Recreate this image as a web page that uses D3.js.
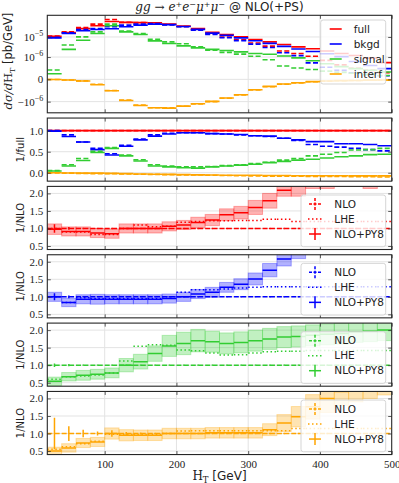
<!DOCTYPE html>
<html>
<head>
<meta charset="utf-8">
<script src="https://cdn.jsdelivr.net/npm/d3@7/dist/d3.min.js"></script>
<style>
  body { margin: 0; background: #fff; }
  text { font-family: "DejaVu Sans", sans-serif; fill: #222; }
  .tick text { font-family: "Liberation Serif", serif; font-size: 11px; }
</style>
</head>
<body>
<div id="chart"></div>
<script>
// ---- data -------------------------------------------------------------
var edges = [20, 40, 60, 80, 100, 120, 140, 160, 180, 200, 220, 240, 260,
  280, 300, 320, 340, 360, 380, 400, 420, 440, 460, 480, 500];

// main panel, dsigma/dHT [pb/GeV]; PS = NLO+PY8 (solid), NLO (dashed)
var fullPS = [1.08e-5, 1.65e-5, 2.6e-5, 3.6e-5, 5.9e-5, 5.3e-5, 5.2e-5, 5.1e-5, 4.4e-5, 3.5e-5, 2.6e-5, 1.7e-5,
  1.33e-5, 1.01e-5, 7.5e-6, 5.7e-6, 4.2e-6, 3.2e-6, 2.6e-6, 2.0e-6, 1.5e-6, 1.2e-6, 9.5e-7, 7.5e-7];
var fullNLO = [1.1e-5, 1.8e-5, 2.95e-5, 4.35e-5, 7.45e-5, 5.3e-5, 5.2e-5, 5.1e-5, 4.2e-5, 3.3e-5, 2.3e-5, 1.45e-5,
  1.0e-5, 7.3e-6, 5.0e-6, 3.5e-6, 2.0e-6, 1.5e-6, 1.1e-6, 8.5e-7, 6.5e-7, 5.0e-7, 4.0e-7, 3.0e-7];
var bkgdPS = [9.0e-6, 1.49e-5, 2.03e-5, 2.36e-5, 2.55e-5, 3.21e-5, 3.88e-5, 4.36e-5, 4.1e-5, 3.3e-5, 2.4e-5, 1.55e-5,
  1.2e-5, 9.0e-6, 6.5e-6, 4.8e-6, 3.4e-6, 2.5e-6, 1.9e-6, 1.45e-6, 1.05e-6, 8.0e-7, 6.2e-7, 4.8e-7];
var bkgdNLO = [9.5e-6, 1.62e-5, 2.36e-5, 2.64e-5, 3.2e-5, 3.88e-5, 4.36e-5, 4.7e-5, 4.0e-5, 3.2e-5, 2.2e-5, 1.35e-5,
  9.2e-6, 6.6e-6, 4.4e-6, 3.0e-6, 1.64e-6, 1.17e-6, 7.4e-7, 5.4e-7, 4.0e-7, 2.9e-7, 2.2e-7, 1.6e-7];
var sigPS = [2.5e-7, 2.4e-6, 6.9e-6, 1.49e-5, 3.6e-5, 1.8e-5, 1.33e-5, 6.4e-6, 4.7e-6, 3.6e-6, 2.86e-6, 2.4e-6,
  2.1e-6, 1.8e-6, 1.5e-6, 1.37e-6, 1.13e-6, 9.6e-7, 8.3e-7, 7.0e-7, 5.7e-7, 4.8e-7, 4.1e-7, 3.3e-7];
var sigNLO = [4.2e-7, 4.0e-6, 1.01e-5, 1.8e-5, 4.36e-5, 1.95e-5, 1.49e-5, 7.7e-6, 5.7e-6, 4.6e-6, 3.2e-6, 2.2e-6,
  1.7e-6, 1.39e-6, 1.1e-6, 8.8e-7, 6.0e-7, 5.1e-7, 4.4e-7, 3.7e-7, 3.1e-7, 2.7e-7, 2.2e-7, 1.7e-7];
var intPS = [-1e-8, -3e-8, -7.5e-8, -2.4e-7, -5.1e-7, -9.5e-7, -1.55e-6, -2.0e-6, -2.1e-6, -1.67e-6, -1.28e-6, -9.9e-7,
  -8.4e-7, -6.9e-7, -4.65e-7, -3.15e-7, -2.1e-7, -1.5e-7, -1.05e-7, -7.5e-8, -6e-8, -5e-8, -3.5e-8, -3e-8];
var intNLO = [-1e-8, -3e-8, -7e-8, -2.2e-7, -5.0e-7, -9.3e-7, -1.5e-6, -2.0e-6, -2.05e-6, -1.7e-6, -1.3e-6, -1.0e-6,
  -8.5e-7, -7.0e-7, -4.8e-7, -3.3e-7, -2.2e-7, -1.6e-7, -1.1e-7, -8e-8, -6.5e-8, -5e-8, -4e-8, -3.5e-8];

// second panel, component / full
var fracBkgdPS = [0.99, 0.86, 0.73, 0.55, 0.42, 0.63, 0.78, 0.87, 0.92, 0.95, 0.95, 0.93,
  0.92, 0.91, 0.88, 0.87, 0.82, 0.78, 0.74, 0.74, 0.69, 0.69, 0.67, 0.64];
var fracBkgdNLO = [1.0, 0.9, 0.73, 0.58, 0.45, 0.65, 0.8, 0.9, 0.94, 0.95, 0.95, 0.93,
  0.92, 0.9, 0.88, 0.86, 0.82, 0.77, 0.67, 0.63, 0.61, 0.58, 0.55, 0.52];
var fracSigPS = [0.04, 0.16, 0.29, 0.48, 0.58, 0.4, 0.28, 0.16, 0.14, 0.12, 0.11, 0.14,
  0.16, 0.18, 0.2, 0.24, 0.27, 0.3, 0.32, 0.35, 0.38, 0.4, 0.43, 0.44];
var fracSigNLO = [0.05, 0.19, 0.34, 0.51, 0.6, 0.42, 0.31, 0.19, 0.16, 0.14, 0.14, 0.15,
  0.17, 0.19, 0.22, 0.25, 0.3, 0.34, 0.4, 0.44, 0.48, 0.54, 0.55, 0.58];
var fracIntPS = [0, -0.005, -0.01, -0.01, -0.015, -0.02, -0.03, -0.035, -0.04, -0.045, -0.05, -0.055,
  -0.06, -0.06, -0.06, -0.065, -0.065, -0.07, -0.07, -0.07, -0.07, -0.075, -0.075, -0.075];
var fracIntNLO = [-0.005, -0.01, -0.015, -0.02, -0.02, -0.03, -0.035, -0.04, -0.045, -0.05, -0.055, -0.06,
  -0.065, -0.07, -0.075, -0.08, -0.085, -0.085, -0.09, -0.09, -0.09, -0.095, -0.095, -0.1];

// lower panels, ratio to NLO: NLO+PY8 with scale band, LHE, NLO stat. error
var fullRatioPS = [0.98, 0.915, 0.915, 0.87, 0.85, 1.0, 1.0, 1.0, 1.06, 1.1, 1.17, 1.24,
  1.39, 1.45, 1.6, 1.79, 2.09, 2.3, 2.5, 2.6, 2.7, 2.8, 2.9, 2.9];
var fullBand = [0.15, 0.13, 0.13, 0.13, 0.13, 0.13, 0.13, 0.13, 0.13, 0.13, 0.15, 0.16,
  0.17, 0.18, 0.2, 0.21, 0.17, 0.38, 0.36, 0.46, 0.45, 0.5, 0.76, 0.6];
var fullLHE = [1.0, 0.9, 0.9, 0.83, 0.83, 1.0, 1.1, 1.05, 1.06, 1.18, 1.2, 1.22,
  1.22, 1.23, 1.23, 1.26, 1.26, 1.2, 1.2, 1.2, 1.2, 1.2, 1.2, 1.2];
var fullNLOErr = [0.12, 0.04, 0.02, 0.02, 0.02, 0.02, 0.02, 0.02, 0.02, 0.02, 0.02, 0.02,
  0.02, 0.02, 0.02, 0.02, 0.02, 0.02, 0.02, 0.02, 0.02, 0.02, 0.02, 0.02];

var bkgdRatioPS = [1.0, 0.84, 0.93, 0.93, 0.93, 0.93, 0.93, 0.93, 0.95, 1.0, 1.08, 1.13,
  1.27, 1.36, 1.51, 1.76, 2.08, 2.3, 2.55, 2.65, 2.75, 2.85, 2.95, 3.0];
var bkgdBand = [0.13, 0.12, 0.13, 0.14, 0.13, 0.13, 0.13, 0.13, 0.13, 0.13, 0.13, 0.14,
  0.14, 0.155, 0.17, 0.19, 0.2, 0.21, 0.3, 0.3, 0.3, 0.3, 0.3, 0.3];
var bkgdLHE = [1.0, 0.84, 0.97, 0.95, 0.95, 0.95, 0.95, 0.95, 1.0, 1.13, 1.2, 1.2,
  1.22, 1.25, 1.27, 1.29, 1.29, 1.29, 1.29, 1.29, 1.29, 1.29, 1.29, 1.29];
var bkgdNLOErr = [0.1, 0.04, 0.02, 0.02, 0.02, 0.02, 0.02, 0.02, 0.02, 0.02, 0.02, 0.02,
  0.02, 0.02, 0.02, 0.02, 0.02, 0.02, 0.02, 0.02, 0.02, 0.02, 0.02, 0.02];

var sigRatioPS = [0.54, 0.67, 0.71, 0.74, 0.78, 1.0, 1.1, 1.33, 1.55, 1.62, 1.7, 1.67,
  1.62, 1.65, 1.7, 1.75, 1.8, 1.82, 1.85, 1.88, 1.9, 1.95, 1.97, 2.0];
var sigBand = [0.12, 0.12, 0.14, 0.14, 0.14, 0.19, 0.21, 0.22, 0.3, 0.32, 0.32, 0.3,
  0.3, 0.3, 0.3, 0.3, 0.3, 0.3, 0.3, 0.3, 0.3, 0.3, 0.3, 0.3];
var sigLHE = [0.6, 0.67, 0.69, 0.72, 0.78, 1.12, 1.54, 1.58, 1.57, 1.43, 1.41, 1.35,
  1.29, 1.3, 1.35, 1.38, 1.4, 1.4, 1.42, 1.42, 1.42, 1.42, 1.42, 1.42];
var sigNLOErr = [0.05, 0.03, 0.02, 0.02, 0.02, 0.02, 0.02, 0.02, 0.02, 0.02, 0.02, 0.02,
  0.02, 0.02, 0.02, 0.02, 0.02, 0.02, 0.02, 0.02, 0.02, 0.02, 0.02, 0.02];

var intRatioPS = [0.5, 0.59, 0.73, 0.76, 1.0, 0.95, 0.95, 0.95, 1.0, 1.0, 1.0, 1.02,
  1.02, 1.02, 1.02, 1.11, 1.3, 1.48, 1.76, 2.0, 2.2, 2.3, 2.4, 2.5];
var intBand = [0.11, 0.12, 0.13, 0.13, 0.16, 0.16, 0.15, 0.15, 0.15, 0.15, 0.15, 0.15,
  0.15, 0.15, 0.15, 0.17, 0.24, 0.29, 0.35, 0.4, 0.4, 0.4, 0.4, 0.4];
var intLHE = [0.55, 0.62, 0.71, 0.78, 0.98, 0.97, 0.97, 0.97, 1.0, 1.07, 1.08, 1.08,
  1.08, 1.08, 1.08, 1.08, 1.08, 1.14, 1.14, 1.14, 1.14, 1.14, 1.14, 1.14];
var intNLOErr = [0.45, 0.21, 0.11, 0.06, 0.09, 0.04, 0.03, 0.02, 0.02, 0.02, 0.02, 0.02,
  0.02, 0.02, 0.02, 0.02, 0.02, 0.02, 0.02, 0.02, 0.02, 0.02, 0.02, 0.02];

var xTicks = [100, 200, 300, 400, 500];
var ratioTicks = [0.5, 1.0, 1.5, 2.0];
var fracTicks = [0.0, 0.5, 1.0];
var mainTicks = [-1e-6, 0, 1e-6, 1e-5];
var names = ["full", "bkgd", "signal", "interf"];
var colors = ["#ff0000", "#0000ff", "#32cd32", "#ffa500"];

// ---- layout -----------------------------------------------------------
var width = 399, height = 483;
var left = 47.3, right = 391.7;
var top0 = 15.3, mainH = 97.5, ratioH = 63.1, gap = 5.25;

var svg = d3.select("#chart").append("svg")
  .attr("width", width).attr("height", height);

var x = d3.scaleLinear().domain([20, 500]).range([left, right]);
var bins = d3.range(edges.length - 1);

// matplotlib-style symlog, linthresh 1e-6
var linthresh = 1e-6, linscale = 1 / (1 - 1 / 10);
function symlog(v) {
  var a = Math.abs(v);
  var t = a <= linthresh ? a / linthresh * linscale : linscale + Math.log10(a / linthresh);
  return v < 0 ? -t : t;
}

function panelTop(i) {
  return i === 0 ? top0 : top0 + mainH + gap + (i - 1) * (ratioH + gap);
}

var clipId = 0;
function makePanel(i, yScale, yTicks, yFormat, yLabel, showX) {
  var t = panelTop(i), h = i === 0 ? mainH : ratioH;
  var g = svg.append("g");
  var id = "clip" + (clipId++);
  svg.append("clipPath").attr("id", id).append("rect")
    .attr("x", left).attr("y", t).attr("width", right - left).attr("height", h);

  // grid
  g.selectAll(".gx").data(xTicks.slice(0, -1)).enter().append("line")
    .attr("x1", x).attr("x2", x).attr("y1", t).attr("y2", t + h)
    .attr("stroke", "#e3e3e3").attr("stroke-width", 1);
  g.selectAll(".gy").data(yTicks).enter().append("line")
    .attr("x1", left).attr("x2", right)
    .attr("y1", function(d) { return yScale(d); }).attr("y2", function(d) { return yScale(d); })
    .attr("stroke", "#e3e3e3").attr("stroke-width", 1);

  var plot = g.append("g").attr("clip-path", "url(#" + id + ")");

  var ax = svg.append("g");
  var yAxis = d3.axisLeft(yScale).tickValues(yTicks).tickSize(-3.5).tickPadding(4).tickFormat(yFormat);
  ax.append("g").attr("transform", "translate(" + left + ",0)").call(yAxis);
  ax.append("g").attr("transform", "translate(" + right + ",0)")
    .call(d3.axisRight(yScale).tickValues(yTicks).tickSize(-3.5).tickFormat(""));
  ax.append("g").attr("transform", "translate(0," + (t + h) + ")")
    .call(d3.axisBottom(x).tickValues(xTicks).tickSize(-3.5).tickPadding(6)
      .tickFormat(showX ? d3.format("d") : ""));
  ax.append("g").attr("transform", "translate(0," + t + ")")
    .call(d3.axisTop(x).tickValues(xTicks).tickSize(-3.5).tickFormat(""));
  ax.selectAll(".domain").remove();
  ax.selectAll(".tick line").attr("stroke", "#333").attr("stroke-width", 0.8);

  svg.append("rect").attr("x", left).attr("y", t).attr("width", right - left).attr("height", h)
    .attr("fill", "none").attr("stroke", "#262626").attr("stroke-width", 1.1);

  if (yLabel) {
    svg.append("text").attr("transform", "translate(24," + (t + h / 2) + ") rotate(-90)")
      .attr("text-anchor", "middle").attr("font-size", 10).text(yLabel);
  }
  return plot;
}

// horizontal step segments, one per bin
function segments(plot, values, yScale, color, dash, width) {
  plot.append("g").selectAll("line").data(bins).enter().append("line")
    .attr("x1", function(i) { return x(edges[i]); })
    .attr("x2", function(i) { return x(edges[i + 1]); })
    .attr("y1", function(i) { return yScale(values[i]); })
    .attr("y2", function(i) { return yScale(values[i]); })
    .attr("stroke", color).attr("stroke-width", width || 1.5)
    .attr("stroke-dasharray", dash || null);
}

function vbars(plot, center, err, yScale, color, dash) {
  plot.append("g").selectAll("line").data(bins).enter().append("line")
    .attr("x1", function(i) { return x((edges[i] + edges[i + 1]) / 2); })
    .attr("x2", function(i) { return x((edges[i] + edges[i + 1]) / 2); })
    .attr("y1", function(i) { return yScale(center[i] - err[i]); })
    .attr("y2", function(i) { return yScale(center[i] + err[i]); })
    .attr("stroke", color).attr("stroke-width", 1.5)
    .attr("stroke-dasharray", dash || null);
}

// ---- panel 1: distributions ------------------------------------------
var yMainT = d3.scaleLinear().domain([symlog(-3.6e-6), symlog(1.2e-4)])
  .range([top0 + mainH, top0]);
var yMain = function(v) { return yMainT(symlog(v)); };

var p1 = makePanel(0, yMainT, mainTicks.map(symlog), function() { return ""; }, null, false);

var mainPS = [fullPS, bkgdPS, sigPS, intPS];
var mainNLO = [fullNLO, bkgdNLO, sigNLO, intNLO];
mainPS.forEach(function(s, k) {
  segments(p1, s, yMain, colors[k], null, 1.6);
  segments(p1, mainNLO[k], yMain, colors[k], "5,2.4", 1.6);
});

// symlog tick labels as 10^n
var mainLabels = svg.append("g").attr("font-size", 11);
mainTicks.forEach(function(d) {
  var t = mainLabels.append("text").attr("x", left - 4).attr("y", yMain(d) + 4)
    .attr("text-anchor", "end").style("font-family", "Liberation Serif, serif");
  if (d === 0) { t.text("0"); return; }
  var e = Math.round(Math.log10(Math.abs(d)));
  t.append("tspan").text((d < 0 ? "\u2212" : "") + "10");
  t.append("tspan").attr("dy", -5).attr("font-size", 8).text("\u2212" + Math.abs(e));
});

// y label
var yl = svg.append("text")
  .attr("transform", "translate(12," + (top0 + mainH / 2 - 3) + ") rotate(-90)")
  .attr("text-anchor", "middle").attr("font-size", 11.5);
yl.append("tspan").style("font-family", "DejaVu Serif, serif").attr("font-style", "italic").text("d\u03c3/d");
yl.append("tspan").style("font-family", "DejaVu Serif, serif").text("H");
yl.append("tspan").style("font-family", "DejaVu Serif, serif").attr("font-size", 8).attr("dy", 3).text("T");
yl.append("tspan").attr("dy", -3).text(" [pb/GeV]");

// main legend
var lg = svg.append("g").attr("transform", "translate(320.7,20)");
lg.append("rect").attr("width", 65).attr("height", 64).attr("rx", 2.5)
  .attr("fill", "#fff").attr("fill-opacity", 0.8).attr("stroke", "#d5d5d5");
names.forEach(function(n, k) {
  var yy = 9 + k * 15;
  lg.append("line").attr("x1", 9).attr("x2", 21).attr("y1", yy).attr("y2", yy)
    .attr("stroke", colors[k]).attr("stroke-width", 1.6);
  lg.append("text").attr("x", 33).attr("y", yy + 3.6).attr("font-size", 10.5).text(n);
});

// ---- panel 2: fractions ----------------------------------------------
var yFrac = d3.scaleLinear().domain([-0.2, 1.3]).range([panelTop(1) + ratioH, panelTop(1)]);
var p2 = makePanel(1, yFrac, fracTicks, d3.format(".1f"), "1/full", false);
var ones = bins.map(function() { return 1; });
var fracPS = [ones, fracBkgdPS, fracSigPS, fracIntPS];
var fracNLO = [ones, fracBkgdNLO, fracSigNLO, fracIntNLO];
fracPS.forEach(function(s, k) {
  segments(p2, s, yFrac, colors[k], null, 1.6);
  segments(p2, fracNLO[k], yFrac, colors[k], "5,2.4", 1.6);
});

// ---- panels 3-6: ratio to NLO ----------------------------------------
var ratioSets = [
  [fullRatioPS, fullBand, fullLHE, fullNLOErr],
  [bkgdRatioPS, bkgdBand, bkgdLHE, bkgdNLOErr],
  [sigRatioPS, sigBand, sigLHE, sigNLOErr],
  [intRatioPS, intBand, intLHE, intNLOErr]
];
ratioSets.forEach(function(set, k) {
  var i = k + 2, t = panelTop(i);
  var y = d3.scaleLinear().domain([0.4, 2.2]).range([t + ratioH, t]);
  var p = makePanel(i, y, ratioTicks, d3.format(".1f"), "1/NLO", i === 5);
  var ps = set[0], band = set[1], lhe = set[2], nerr = set[3];

  p.append("g").selectAll("rect").data(bins).enter().append("rect")
    .attr("x", function(j) { return x(edges[j]); })
    .attr("width", function(j) { return x(edges[j + 1]) - x(edges[j]); })
    .attr("y", function(j) { return y(ps[j] + band[j]); })
    .attr("height", function(j) { return y(ps[j] - band[j]) - y(ps[j] + band[j]); })
    .attr("fill", colors[k]).attr("fill-opacity", 0.3)
    .attr("stroke", colors[k]).attr("stroke-opacity", 0.3).attr("stroke-width", 1);

  segments(p, ones, y, colors[k], "5,2.4", 1.5);
  vbars(p, ones, nerr, y, colors[k], null);
  segments(p, lhe, y, colors[k], "1.5,2.5", 1.5);
  segments(p, ps, y, colors[k], null, 1.5);

  // legend
  var lb = t + ratioH - 2.8 - 51.7;
  var L = svg.append("g").attr("transform", "translate(301," + lb + ")");
  L.append("rect").attr("width", 84.7).attr("height", 51.7).attr("rx", 2.5)
    .attr("fill", "#fff").attr("fill-opacity", 0.8).attr("stroke", "#d5d5d5");
  var entries = [["NLO", "dash"], ["LHE", "dot"], ["NLO+PY8", "solid"]];
  entries.forEach(function(e, m) {
    var yy = 9 + m * 15, cx = 14;
    var dash = e[1] === "dash" ? "3,1.5" : null;
    if (e[1] === "dot") {
      L.append("line").attr("x1", cx - 7).attr("x2", cx + 7).attr("y1", yy).attr("y2", yy)
        .attr("stroke", colors[k]).attr("stroke-width", 1.5).attr("stroke-dasharray", "1.5,2.5");
    } else {
      L.append("line").attr("x1", cx - 6).attr("x2", cx + 6).attr("y1", yy).attr("y2", yy)
        .attr("stroke", colors[k]).attr("stroke-width", 1.5).attr("stroke-dasharray", dash);
      L.append("line").attr("x1", cx).attr("x2", cx).attr("y1", yy - 6).attr("y2", yy + 6)
        .attr("stroke", colors[k]).attr("stroke-width", 1.5).attr("stroke-dasharray", dash);
    }
    L.append("text").attr("x", 33.3).attr("y", yy + 3.6).attr("font-size", 10.5).text(e[0]);
  });
});

// ---- title & x label ----------------------------------------------------
var title = svg.append("text").attr("x", (left + right) / 2).attr("y", 11)
  .attr("text-anchor", "middle").attr("font-size", 12);
title.append("tspan").style("font-family", "DejaVu Serif, serif").attr("font-style", "italic").text("gg");
title.append("tspan").style("font-family", "DejaVu Serif, serif").text(" \u2192 ");
var parts = [["e", "+"], ["e", "\u2212"], ["\u03bc", "+"], ["\u03bc", "\u2212"]];
parts.forEach(function(p, n) {
  title.append("tspan").style("font-family", "DejaVu Serif, serif").attr("font-style", "italic")
    .attr("dy", n === 0 ? 0 : 4.5).text(p[0]);
  title.append("tspan").style("font-family", "DejaVu Serif, serif").attr("font-size", 8)
    .attr("dy", -4.5).text(p[1]);
});
title.append("tspan").attr("dy", 4.5).text(" @ NLO(+PS)");

var xl = svg.append("text").attr("x", (left + right) / 2).attr("y", 480)
  .attr("text-anchor", "middle").attr("font-size", 12);
xl.append("tspan").style("font-family", "DejaVu Serif, serif").text("H");
xl.append("tspan").style("font-family", "DejaVu Serif, serif").attr("font-size", 8.5).attr("dy", 2.5).text("T");
xl.append("tspan").attr("dy", -2.5).text(" [GeV]");
</script>
</body>
</html>
